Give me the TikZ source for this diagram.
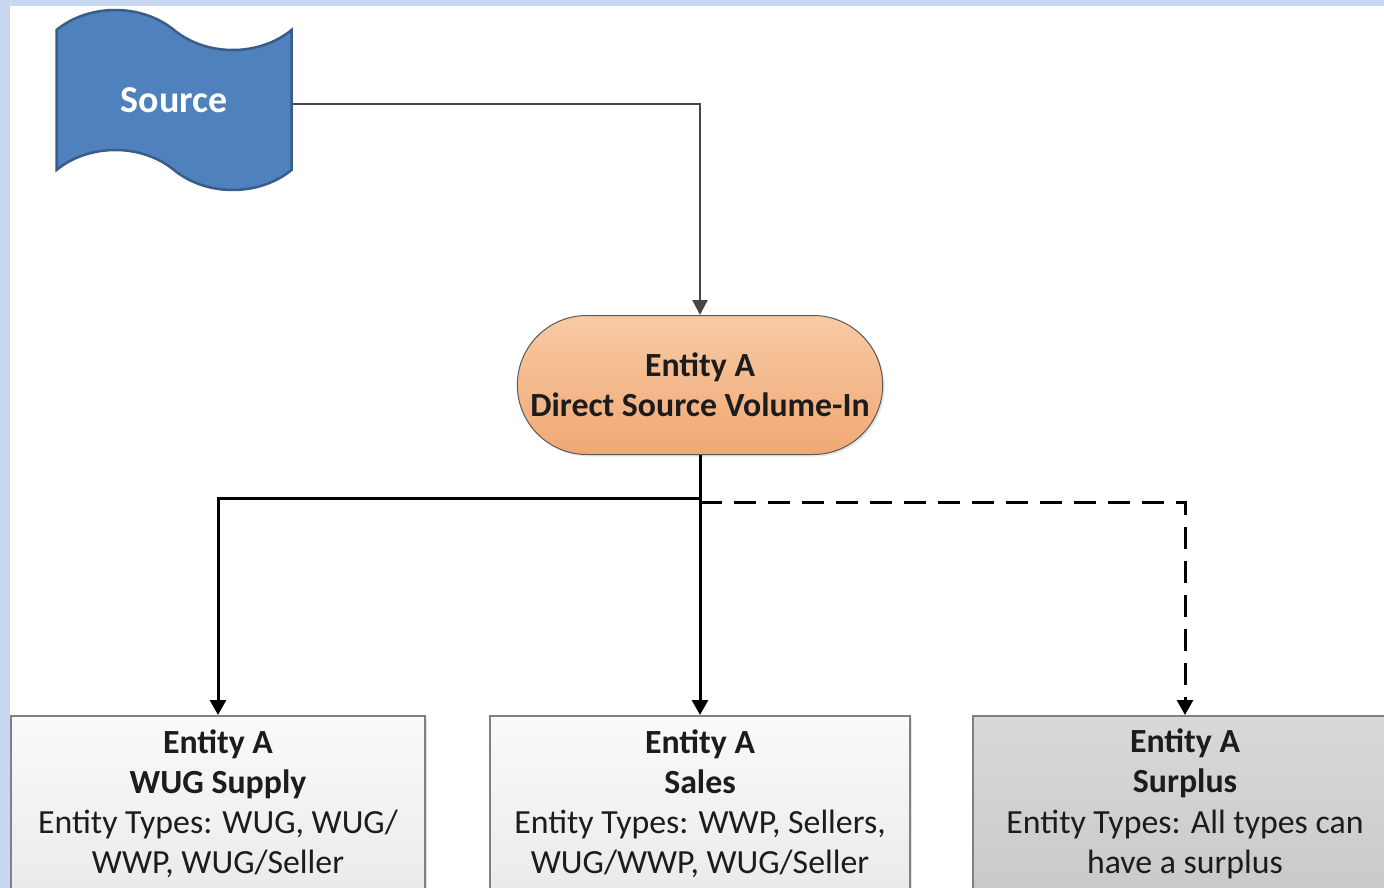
\documentclass[tikz,border=0pt]{standalone}
\usepackage{fontspec}
\setmainfont{Carlito}
\usetikzlibrary{shapes.symbols,shapes.misc,arrows.meta,shadows}
\definecolor{bgblue}{RGB}{200,216,240}
\definecolor{srcblue}{RGB}{79,129,189}
\definecolor{srcedge}{RGB}{56,93,138}
\definecolor{peachtop}{RGB}{248,202,164}
\definecolor{peachbot}{RGB}{240,168,116}
\definecolor{inktext}{RGB}{28,28,28}

\begin{document}
\begin{tikzpicture}
[x=1pt,y=-1pt,%
  every node/.style={font=\fontsize{33.8}{40.3}\selectfont,text=inktext,align=center},%
  flow/.style={-{Triangle[length=15pt,width=16pt]},line width=3pt,black},%
  entity/.style={shape=rectangle,draw=black!50,line width=1.5pt,minimum width=420pt,
    minimum height=176pt,anchor=north,drop shadow={opacity=.2,shadow xshift=2pt,shadow yshift=-2pt}}]
\useasboundingbox (0,0) rectangle (1384,888);
\fill[bgblue] (0,0) rectangle (1384,888);
\fill[white] (10,6) rectangle (1384,888);
\clip (0,0) rectangle (1384,888);
\node[shape=tape,tape bend top=out and in,tape bend bottom=out and in,tape bend height=40pt,
  minimum width=235pt,minimum height=180pt,fill=srcblue,draw=srcedge,line width=2.5pt,
  text=white,font=\fontsize{38}{44}\selectfont\bfseries] (src) at (174,100) {Source};
\node[shape=rounded rectangle,minimum width=372pt,minimum height=139pt,top color=peachtop,
  bottom color=peachbot,draw=black!65,line width=1pt,
  drop shadow={opacity=.2,shadow xshift=2pt,shadow yshift=-2pt}] (dsv) at (700,385)
  {\bfseries Entity A\\ \bfseries Direct Source Volume-In};
\node[entity,minimum width=414pt,top color=white!98!black,bottom color=white!92!black] (supply) at (218,715)
  {\bfseries Entity A\\ \bfseries WUG Supply\\ Entity Types: WUG, WUG/\\ WWP, WUG/Seller};
\node[entity,top color=white!98!black,bottom color=white!92!black] (sales) at (700,715)
  {\bfseries Entity A\\ \bfseries Sales\\ Entity Types: WWP, Sellers,\\ WUG/WWP, WUG/Seller};
\node[entity,minimum width=424pt,top color=white!85!black,bottom color=white!79!black] (surplus) at (1185,715)
  {\bfseries Entity A\\ \bfseries Surplus\\ Entity Types: All types can\\ have a surplus};
\draw[-{Triangle[length=15pt,width=15pt]},line width=2.3pt,black!72] ([yshift=-4pt]src.east) -| (dsv.north);
\draw[flow] (dsv.south) -- (sales.north);
\draw[flow] (dsv.south) -- ++(0,43) -| (supply.north);
\draw[flow,dash pattern=on 22pt off 12pt] (dsv.south) ++(0,47) -| (surplus.north);
\end{tikzpicture}
\end{document}
